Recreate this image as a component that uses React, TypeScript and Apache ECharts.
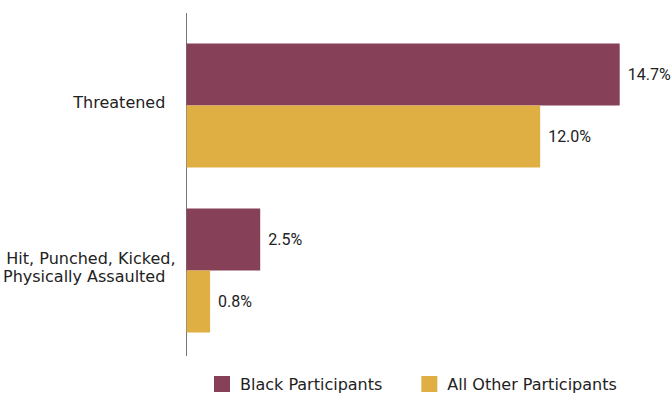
import React, { useEffect, useRef } from "react";
import * as echarts from "echarts";

const categories = ["Hit, Punched, Kicked,\nPhysically Assaulted", "Threatened"];
const seriesNames = ["Black Participants", "All Other Participants"];
const blackValues = [2.5, 14.7];
const otherValues = [0.8, 12.0];
const colors = ["#864159", "#E0AF44"];

export default function App() {
  const ref = useRef<HTMLDivElement>(null);
  useEffect(() => {
    if (!ref.current) return;
    const chart = echarts.init(ref.current, null, { renderer: "svg" });
    const font = "DejaVu Sans";
    const label = {
      show: true,
      position: "right",
      distance: 8,
      color: "#222",
      fontSize: 16,
      fontFamily: "Roboto",
      formatter: (p: any) => Number(p.value).toFixed(1) + "%",
    };
    chart.setOption({
      animation: false,
      grid: { left: 186, top: 23, width: 472, height: 330, containLabel: false },
      legend: {
        left: 214,
        top: 376,
        padding: 0,
        itemWidth: 16,
        itemHeight: 16,
        itemGap: 39,
        icon: "rect",
        textStyle: { fontSize: 16, color: "#222", fontFamily: font, padding: [0, 0, 0, 5] },
        data: seriesNames,
      },
      xAxis: {
        type: "value",
        min: 0,
        max: 16,
        show: false,
      },
      yAxis: {
        type: "category",
        data: categories,
        axisLine: { show: false },
        axisTick: { show: false },
        axisLabel: {
          margin: 11,
          fontSize: 16,
          lineHeight: 18,
          color: "#222",
          fontFamily: font,
          formatter: (v: string) =>
            v
              .split("\n")
              .map((l) => (l.endsWith(",") ? l : l + "  "))
              .join("\n") + "\n{s|}",
          rich: {
            s: { lineHeight: 7, fontSize: 1 },
          },
        },
      },
      graphic: [
        {
          type: "line",
          shape: { x1: 186.5, y1: 13, x2: 186.5, y2: 356 },
          style: { stroke: "#777", lineWidth: 1 },
        },
      ],
      series: [
        {
          name: seriesNames[0],
          type: "bar",
          data: blackValues,
          barWidth: 62,
          barGap: "0%",
          itemStyle: { color: colors[0] },
          label,
        },
        {
          name: seriesNames[1],
          type: "bar",
          data: otherValues,
          barWidth: 62,
          barGap: "0%",
          itemStyle: { color: colors[1] },
          label,
        },
      ],
    });
    return () => chart.dispose();
  }, []);
  return (
    <div
      ref={ref}
      style={{ position: "absolute", left: 0, top: 0, width: 671, height: 394 }}
    />
  );
}
